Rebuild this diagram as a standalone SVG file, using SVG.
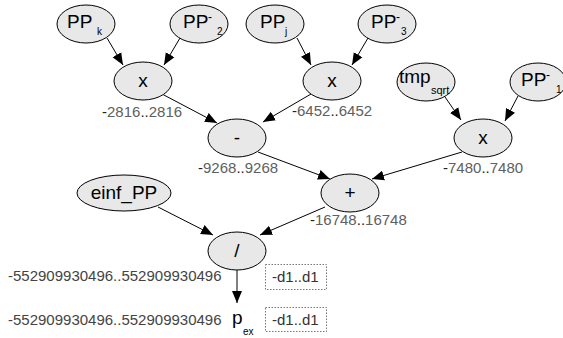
<svg xmlns="http://www.w3.org/2000/svg" width="563" height="338" viewBox="0 0 563 338">
<style>
.n ellipse{fill:#e8e8e8;stroke:#000;stroke-width:1}
.t{font-family:"Liberation Sans",Arial,sans-serif;fill:#000}
.big{font-size:19px}
.sub{font-size:10px}
.lbl{font-family:"Liberation Sans",Arial,sans-serif;font-size:15px;fill:#606060}
.lbl .d{fill:#222}
.e line{stroke:#000;stroke-width:1;marker-end:url(#ah)}
.box{fill:none;stroke:#777;stroke-width:1;stroke-dasharray:1.5,1.5}
</style>
<defs>
<marker id="ah" markerUnits="userSpaceOnUse" markerWidth="13" markerHeight="11" refX="12" refY="5.5" orient="auto">
<path d="M0,0.5 L12,5.5 L0,10.5 z" fill="#000"/>
</marker>
</defs>
<g id="connectors" class="e">
<line x1="107" y1="38" x2="123" y2="65"/>
<line x1="180" y1="38" x2="164" y2="65"/>
<line x1="297" y1="38" x2="311" y2="65"/>
<line x1="368" y1="38" x2="352" y2="65"/>
<line x1="162" y1="94" x2="217" y2="123"/>
<line x1="311" y1="94" x2="263" y2="122"/>
<line x1="445" y1="97" x2="461" y2="120"/>
<line x1="518" y1="96" x2="505" y2="121"/>
<line x1="258" y1="152" x2="330" y2="179"/>
<line x1="462" y1="152" x2="372" y2="179"/>
<line x1="158" y1="207" x2="213" y2="235"/>
<line x1="325" y1="207" x2="260" y2="235"/>
<line x1="237" y1="270" x2="237" y2="303"/>
</g>
<g id="PPk" class="n"><ellipse cx="86" cy="24" rx="29" ry="19"/><text class="t big" x="67" y="28">PP</text><text class="t sub" x="97" y="35">k</text></g>
<g id="PPm2" class="n"><ellipse cx="199" cy="24" rx="29" ry="19"/><text class="t big" x="183" y="28">PP</text><text class="t" font-size="12" x="208" y="21">-</text><text class="t sub" x="217" y="35">2</text></g>
<g id="PPj" class="n"><ellipse cx="275" cy="24" rx="29" ry="19"/><text class="t big" x="260" y="28">PP</text><text class="t sub" x="285" y="35">j</text></g>
<g id="PPm3" class="n"><ellipse cx="387" cy="24" rx="29" ry="19"/><text class="t big" x="371" y="28">PP</text><text class="t" font-size="12" x="396" y="21">-</text><text class="t sub" x="401" y="35">3</text></g>
<g id="mulL" class="n"><ellipse cx="143" cy="81" rx="29" ry="19"/><text class="t big" x="143" y="87" text-anchor="middle">x</text></g>
<g id="mulM" class="n"><ellipse cx="332" cy="81" rx="29" ry="19"/><text class="t big" x="332" y="87" text-anchor="middle">x</text></g>
<g id="tmpsqrt" class="n"><ellipse cx="426" cy="82" rx="29" ry="19"/><text class="t big" x="399" y="83">tmp</text><text class="t" font-size="11" x="431" y="94">sqrt</text></g>
<g id="PPm1" class="n"><ellipse cx="538" cy="82" rx="28" ry="19"/><text class="t big" x="521" y="86">PP</text><text class="t" font-size="12" x="546" y="79">-</text><text class="t sub" x="556" y="93">1</text></g>
<g id="mulR" class="n"><ellipse cx="483" cy="138" rx="29" ry="19"/><text class="t big" x="483" y="144" text-anchor="middle">x</text></g>
<g id="minus" class="n"><ellipse cx="237" cy="138" rx="29" ry="19"/><text class="t big" x="237" y="144" text-anchor="middle">-</text></g>
<g id="plus" class="n"><ellipse cx="350" cy="193" rx="29" ry="19"/><text class="t big" x="350" y="199" text-anchor="middle">+</text></g>
<g id="einfPP" class="n"><ellipse cx="124" cy="193" rx="47" ry="18"/><text class="t big" x="124" y="199" text-anchor="middle">einf_PP</text></g>
<g id="div" class="n"><ellipse cx="237" cy="251" rx="29" ry="19"/><text class="t big" x="237" y="257" text-anchor="middle">/</text></g>
<g id="pex"><text class="t big" x="232" y="324">p</text><text class="t sub" x="243" y="335">ex</text></g>
<g id="labels">
<text class="lbl" x="102" y="117"><tspan class="d">-</tspan>2816<tspan class="d">..</tspan>2816</text>
<text class="lbl" x="292" y="116"><tspan class="d">-</tspan>6452<tspan class="d">..</tspan>6452</text>
<text class="lbl" x="198" y="173"><tspan class="d">-</tspan>9268<tspan class="d">..</tspan>9268</text>
<text class="lbl" x="443" y="173"><tspan class="d">-</tspan>7480<tspan class="d">..</tspan>7480</text>
<text class="lbl" x="310" y="225"><tspan class="d">-</tspan>16748<tspan class="d">..</tspan>16748</text>
<text class="lbl" x="8" y="281" style="fill:#444">-552909930496..552909930496</text>
<text class="lbl" x="8" y="325" style="fill:#444">-552909930496..552909930496</text>
<rect class="box" x="265.5" y="264.5" width="61" height="25"/>
<text class="lbl" x="272" y="282" style="fill:#333">-d1..d1</text>
<rect class="box" x="265.5" y="307.5" width="61" height="24"/>
<text class="lbl" x="272" y="325" style="fill:#333">-d1..d1</text>
</g>
</svg>
